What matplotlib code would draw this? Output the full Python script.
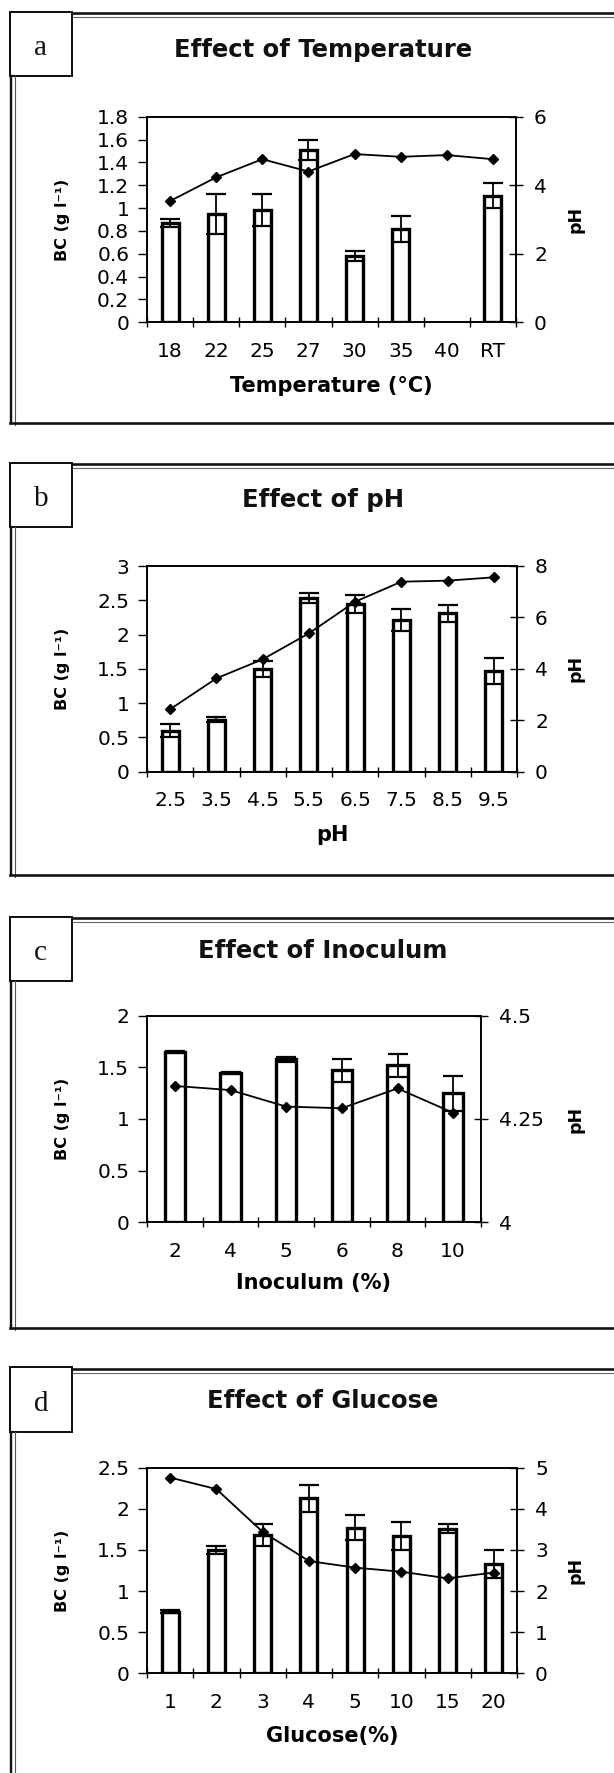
import numpy as np
import matplotlib
matplotlib.use('Agg')
import matplotlib.pyplot as plt
from matplotlib.lines import Line2D
from matplotlib.patches import Rectangle
from matplotlib.ticker import FormatStrFormatter

# ---------------- data ----------------
temp_labels = ['18', '22', '25', '27', '30', '35', '40', 'RT']
temp_bc = [0.87, 0.95, 0.98, 1.51, 0.58, 0.82, np.nan, 1.11]
temp_bc_err = [0.035, 0.175, 0.14, 0.085, 0.04, 0.115, np.nan, 0.11]
temp_ph = [3.54, 4.23, 4.76, 4.40, 4.91, 4.83, 4.88, 4.76]

ph_labels = ['2.5', '3.5', '4.5', '5.5', '6.5', '7.5', '8.5', '9.5']
ph_bc = [0.60, 0.76, 1.50, 2.53, 2.45, 2.21, 2.31, 1.47]
ph_bc_err = [0.09, 0.04, 0.12, 0.07, 0.13, 0.16, 0.12, 0.19]
ph_ph = [2.43, 3.63, 4.37, 5.38, 6.61, 7.39, 7.43, 7.56]

inoc_labels = ['2', '4', '5', '6', '8', '10']
inoc_bc = [1.65, 1.45, 1.58, 1.47, 1.52, 1.25]
inoc_bc_err = [0.004, 0.004, 0.025, 0.11, 0.11, 0.17]
inoc_ph = [4.33, 4.32, 4.28, 4.276, 4.324, 4.265]

gluc_labels = ['1', '2', '3', '4', '5', '10', '15', '20']
gluc_bc = [0.75, 1.50, 1.68, 2.13, 1.77, 1.67, 1.76, 1.33]
gluc_bc_err = [0.02, 0.045, 0.13, 0.165, 0.15, 0.17, 0.05, 0.17]
gluc_ph = [4.76, 4.48, 3.44, 2.73, 2.57, 2.47, 2.31, 2.45]

titles = ['Effect of Temperature', 'Effect of pH', 'Effect of Inoculum', 'Effect of Glucose']
xlabels = ['Temperature (\u00b0C)', 'pH', 'Inoculum (%)', 'Glucose(%)']
letters = ['a', 'b', 'c', 'd']
left_ticks = [np.arange(0, 1.81, 0.2), np.arange(0, 3.01, 0.5),
              np.arange(0, 2.01, 0.5), np.arange(0, 2.51, 0.5)]
right_ticks = [[0, 2, 4, 6], [0, 2, 4, 6, 8], [4, 4.25, 4.5], [0, 1, 2, 3, 4, 5]]

# ---------------- layout (pixels) ----------------
W, H = 614, 1773
fig = plt.figure(figsize=(W / 100, H / 100), dpi=100)
fig.patch.set_facecolor('white')


def fx(x):
    return x / W


def fy(y):
    return 1 - y / H


PX = 0.72  # px -> pt

axes_px = [(147, 516, 116.7, 322.3), (147, 517, 566.0, 771.7),
           (147, 481, 1015.7, 1222.3), (147, 517, 1467.7, 1673.3)]
frame_top = [13.3, 464.3, 918.3, 1369.0]
frame_bot = [423.3, 875.0, 1327.7, None]
title_base = [57.3, 507.3, 958.3, 1408.3]
xlabel_base = [391.7, 840.7, 1289.3, 1741.7]

datasets = [
    (temp_labels, temp_bc, temp_bc_err, temp_ph),
    (ph_labels, ph_bc, ph_bc_err, ph_ph),
    (inoc_labels, inoc_bc, inoc_bc_err, inoc_ph),
    (gluc_labels, gluc_bc, gluc_bc_err, gluc_ph),
]

tick_font = 'DejaVu Sans'
tick_size = 14.5

for i in range(4):
    labels, bc, err, phv = datasets[i]
    l, r, t, b = axes_px[i]
    ft = frame_top[i]
    fb = frame_bot[i] if frame_bot[i] is not None else H + 5

    # ---- frame ----
    box_top = ft - 1.6
    box_bot = ft + 62.7
    fig.add_artist(Line2D([fx(72), fx(W + 2)], [fy(ft), fy(ft)], transform=fig.transFigure,
                          lw=2.6 * PX, color='#111111'))
    fig.add_artist(Line2D([fx(73), fx(W + 2)], [fy(ft + 3.6), fy(ft + 3.6)], transform=fig.transFigure,
                          lw=1.1 * PX, color='#666666'))
    fig.add_artist(Line2D([fx(11), fx(11)], [fy(box_bot), fy(fb)], transform=fig.transFigure,
                          lw=2.4 * PX, color='#111111'))
    fig.add_artist(Line2D([fx(15), fx(15)], [fy(box_bot), fy(fb + 2)], transform=fig.transFigure,
                          lw=1.1 * PX, color='#555555'))
    if frame_bot[i] is not None:
        fig.add_artist(Line2D([fx(10), fx(W + 2)], [fy(fb), fy(fb)], transform=fig.transFigure,
                              lw=2.6 * PX, color='#111111'))
    fig.add_artist(Rectangle((fx(9.5), fy(box_bot)), fx(72) - fx(9.5), fy(box_top) - fy(box_bot),
                             transform=fig.transFigure, facecolor='white', edgecolor='#111111',
                             lw=2.0 * PX))
    fig.text(fx(40.8), fy(box_top + 43.5), letters[i], family='Liberation Serif', size=21,
             ha='center', va='baseline', color='#111111')
    fig.text(fx(323), fy(title_base[i]), titles[i], ha='center', va='baseline',
             weight='bold', size=17.5, family='DejaVu Sans', color='#111111')

    # ---- axes ----
    ax = fig.add_axes([fx(l), fy(b), fx(r) - fx(l), fy(t) - fy(b)])
    ax2 = ax.twinx()
    n = len(labels)
    x = np.arange(n)

    ax.bar(x, bc, width=0.37, color='white', edgecolor='black', linewidth=2.4, zorder=2)
    ax.errorbar(x, bc, yerr=err, fmt='none', ecolor='black', elinewidth=1.3, capsize=7,
                capthick=1.6, zorder=3)
    ax2.plot(x, phv, color='black', lw=1.3, marker='D', ms=5.3, mfc='black', mec='black',
             zorder=4)

    ax.set_xlim(-0.5, n - 0.5)
    ax.set_ylim(left_ticks[i][0], left_ticks[i][-1])
    ax2.set_ylim(right_ticks[i][0], right_ticks[i][-1])

    ax.set_xticks(np.arange(n + 1) - 0.5)
    ax.set_xticklabels([])
    ax.set_xticks(x, minor=True)
    ax.set_xticklabels(labels, minor=True, family=tick_font, size=tick_size)
    ax.tick_params(axis='x', which='major', direction='inout', length=7.2, width=1.0,
                   top=False)
    ax.tick_params(axis='x', which='minor', length=0, pad=14.0, top=False)

    ax.set_yticks(left_ticks[i])
    ax.yaxis.set_major_formatter(FormatStrFormatter('%g'))
    ax.tick_params(axis='y', direction='out', length=6.8, width=1.0, pad=6.0,
                   labelsize=tick_size, right=False)
    ax2.set_yticks(right_ticks[i])
    ax2.yaxis.set_major_formatter(FormatStrFormatter('%g'))
    ax2.tick_params(axis='y', direction='inout', length=10, width=1.0, pad=8.0,
                    labelsize=tick_size)
    for a_ in (ax, ax2):
        for s in a_.spines.values():
            s.set_linewidth(1.2)
            s.set_color('black')
        for lab in a_.get_yticklabels():
            lab.set_family(tick_font)

    hpx = b - t
    wpx = r - l
    ax.set_xlabel(xlabels[i], weight='bold', size=15, family='DejaVu Sans', va='baseline')
    ax.xaxis.set_label_coords(0.5, (b - xlabel_base[i]) / hpx)
    ax.set_ylabel('BC (g l\u207b\u00b9)', weight='bold', size=11.5, family='DejaVu Sans',
                  va='center')
    ax.yaxis.set_label_coords((62 - l) / wpx, 0.5)
    ax2.set_ylabel('pH', weight='bold', size=12.5, family='DejaVu Sans', va='center',
                   rotation=90)
    ax2.yaxis.set_label_coords((575 - l) / wpx, 0.5)

fig.savefig('out.png', dpi=100, facecolor='white')
